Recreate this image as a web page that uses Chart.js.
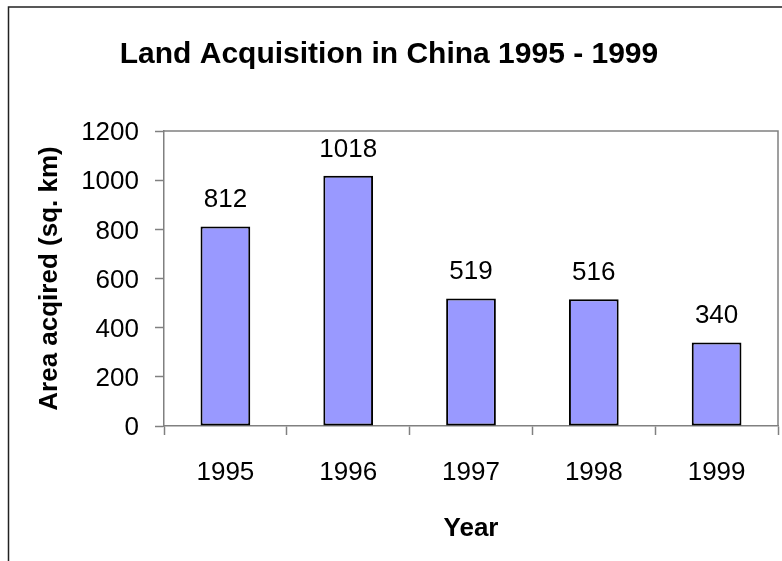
<!DOCTYPE html>
<html>
<head>
<meta charset="utf-8">
<script src="https://cdn.jsdelivr.net/npm/chart.js@4"></script>
<style>
  body { margin: 0; background: #fff; }
  canvas { display: block; }
</style>
</head>
<body>
<canvas id="landChart" width="782" height="561"></canvas>
<script>
// ======================= DATA =======================
const years = ["1995", "1996", "1997", "1998", "1999"];
const areaAcquired = [812, 1018, 519, 516, 340];
const yTicks = [0, 200, 400, 600, 800, 1000, 1200];

const FONT = "'Liberation Sans', Arial, sans-serif";
const AXIS_GRAY = "#808080";

// outer frame (only top + left edges are visible in the picture)
const framePlugin = {
  id: "frame",
  beforeDraw(chart) {
    const ctx = chart.ctx;
    ctx.save();
    ctx.fillStyle = "#fff";
    ctx.fillRect(0, 0, chart.width, chart.height);
    ctx.strokeStyle = "#222";
    ctx.lineWidth = 1.5;
    ctx.beginPath();
    ctx.moveTo(8.5, chart.height);
    ctx.lineTo(8.5, 7);
    ctx.lineTo(chart.width, 7);
    ctx.stroke();
    ctx.restore();
  },
  // plot area border, top and right side
  afterDraw(chart) {
    const { ctx, chartArea: a } = chart;
    ctx.save();
    ctx.strokeStyle = AXIS_GRAY;
    ctx.lineWidth = 1.5;
    ctx.beginPath();
    ctx.moveTo(a.left, a.top);
    ctx.lineTo(a.right, a.top);
    ctx.lineTo(a.right, a.bottom);
    ctx.stroke();
    ctx.restore();
  },
};

// value labels above every bar
const valueLabels = {
  id: "valueLabels",
  afterDatasetsDraw(chart) {
    const ctx = chart.ctx;
    const meta = chart.getDatasetMeta(0);
    ctx.save();
    ctx.font = "26px " + FONT;
    ctx.fillStyle = "#000";
    ctx.textAlign = "center";
    ctx.textBaseline = "alphabetic";
    meta.data.forEach((bar, i) => {
      ctx.fillText(String(areaAcquired[i]), bar.x, bar.y - 19);
    });
    ctx.restore();
  },
};

const ctx = document.getElementById("landChart").getContext("2d");
new Chart(ctx, {
  type: "bar",
  data: {
    labels: years,
    datasets: [
      {
        data: areaAcquired,
        backgroundColor: "#9999FF",
        borderColor: "#000",
        borderWidth: 2,
        borderSkipped: false,
        categoryPercentage: 1,
        barPercentage: 0.405,
      },
    ],
  },
  options: {
    responsive: false,
    animation: false,
    devicePixelRatio: 1,
    layout: { padding: { left: 0, right: 4, top: 0, bottom: 0 } },
    plugins: {
      legend: { display: false },
      tooltip: { enabled: false },
      title: {
        display: true,
        text: "Land Acquisition in China 1995 - 1999",
        color: "#000",
        font: { family: FONT, size: 30, weight: "bold" },
        padding: { top: 37, bottom: 58 },
      },
    },
    scales: {
      x: {
        grid: {
          offset: true,
          drawOnChartArea: false,
          tickLength: 9,
          tickColor: AXIS_GRAY,
          tickWidth: 1.5,
        },
        border: { color: AXIS_GRAY, width: 1.5 },
        ticks: {
          color: "#000",
          font: { family: FONT, size: 26 },
          padding: 22,
          maxRotation: 0,
        },
        title: {
          display: true,
          text: "Year",
          color: "#000",
          font: { family: FONT, size: 26, weight: "bold" },
          padding: { top: 0, bottom: 17 },
        },
        afterFit: (scale) => { scale.height = 135; },
      },
      y: {
        min: 0,
        max: 1200,
        afterBuildTicks: (scale) => {
          scale.ticks = yTicks.map((v) => ({ value: v }));
        },
        grid: {
          drawOnChartArea: false,
          tickLength: 9,
          tickColor: AXIS_GRAY,
          tickWidth: 1.5,
        },
        border: { color: AXIS_GRAY, width: 1.5 },
        ticks: {
          color: "#000",
          font: { family: FONT, size: 26 },
          padding: 16,
          labelOffset: 2,
          callback: (v) => String(v),
        },
        title: {
          display: true,
          text: "Area acqired (sq. km)",
          color: "#000",
          font: { family: FONT, size: 26, weight: "bold" },
          padding: { top: 34, bottom: 0 },
        },
        afterFit: (scale) => { scale.width = 164; },
      },
    },
  },
  plugins: [framePlugin, valueLabels],
});
</script>
</body>
</html>
